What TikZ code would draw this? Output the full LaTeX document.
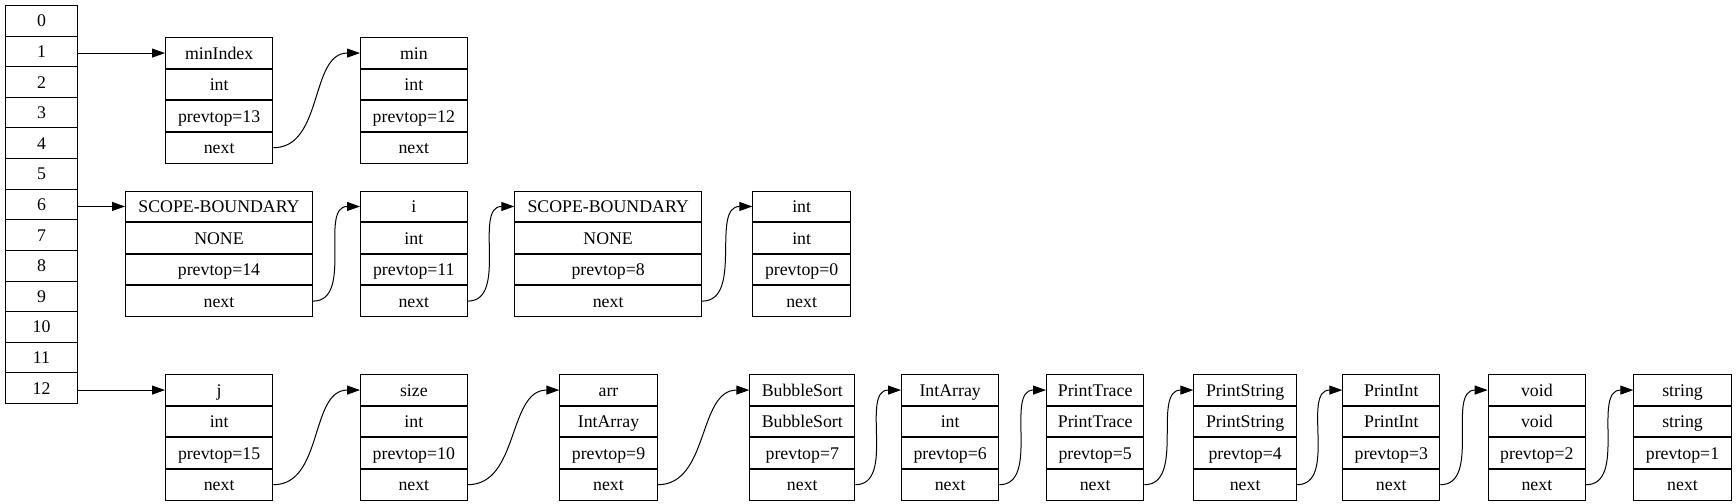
\documentclass[tikz,border=0pt]{standalone}
\usepackage{fontspec}
\setmainfont{Liberation Serif}
\newfontfamily\timesfont{Liberation Serif}
\usetikzlibrary{arrows.meta}
\tikzset{
  cell/.style={draw=black, line width=1pt, inner sep=0pt, minimum height=30.55pt,
    text height=12pt, text depth=0pt, font=\timesfont\fontsize{17.8}{20}\selectfont},
  link/.style={line width=1pt, -{Triangle[length=13pt,width=9pt]}}
}
\newcommand{\recbox}[8]{%
  \pgfmathsetmacro\bw{#3-#2}%
  \node[cell, minimum width=\bw pt, anchor=north west] (#1-1) at (#2pt,-#4pt) {#5};
  \node[cell, minimum width=\bw pt, anchor=north] (#1-2) at (#1-1.south) {#6};
  \node[cell, minimum width=\bw pt, anchor=north] (#1-3) at (#1-2.south) {#7};
  \node[cell, minimum width=\bw pt, anchor=north] (#1-4) at (#1-3.south) {#8};
}
\newcommand{\linkto}[2]{\draw[link] (#1-4.east) to[out=0,in=180] (#2-1.west);}
\begin{document}
\begin{tikzpicture}
\useasboundingbox (0,0) rectangle (1736pt,-503pt);
% table
\foreach \k in {0,...,12}{
  \node[cell, minimum width=72pt, minimum height=30.615pt, anchor=north west] (t\k) at (5pt,{-5pt-\k*30.615pt}) {\k};
}
% row 1
\recbox{mi}{165}{272.3}{37.3}{minIndex}{int}{prevtop=13}{next}
\recbox{mn}{360}{466.7}{37.3}{min}{int}{prevtop=12}{next}
% row 2
\recbox{sba}{125}{312}{190.7}{SCOPE-BOUNDARY}{NONE}{prevtop=14}{next}
\recbox{iv}{360}{466.7}{190.7}{i}{int}{prevtop=11}{next}
\recbox{sbb}{514.3}{701}{190.7}{SCOPE-BOUNDARY}{NONE}{prevtop=8}{next}
\recbox{it}{752.3}{850}{190.7}{int}{int}{prevtop=0}{next}
% row 3
\recbox{j}{165}{272.3}{374.3}{j}{int}{prevtop=15}{next}
\recbox{sz}{360}{466.7}{374.3}{size}{int}{prevtop=10}{next}
\recbox{ar}{559.3}{656.7}{374.3}{arr}{IntArray}{prevtop=9}{next}
\recbox{bs}{749.3}{854.3}{374.3}{BubbleSort}{BubbleSort}{prevtop=7}{next}
\recbox{ia}{901}{998.3}{374.3}{IntArray}{int}{prevtop=6}{next}
\recbox{pt}{1046}{1143.3}{374.3}{PrintTrace}{PrintTrace}{prevtop=5}{next}
\recbox{ps}{1193.3}{1296}{374.3}{PrintString}{PrintString}{prevtop=4}{next}
\recbox{pi}{1342.3}{1439.3}{374.3}{PrintInt}{PrintInt}{prevtop=3}{next}
\recbox{vd}{1487.7}{1585}{374.3}{void}{void}{prevtop=2}{next}
\recbox{st}{1633.3}{1730.7}{374.3}{string}{string}{prevtop=1}{next}
% table arrows
\draw[link] (t1.east |- mi-1.west) -- (mi-1.west);
\draw[link] (t6.east |- sba-1.west) -- (sba-1.west);
\draw[link] (t12.east |- j-1.west) -- (j-1.west);
% chains
\linkto{mi}{mn}
\linkto{sba}{iv}
\linkto{iv}{sbb}
\linkto{sbb}{it}
\linkto{j}{sz}
\linkto{sz}{ar}
\linkto{ar}{bs}
\linkto{bs}{ia}
\linkto{ia}{pt}
\linkto{pt}{ps}
\linkto{ps}{pi}
\linkto{pi}{vd}
\linkto{vd}{st}
\end{tikzpicture}
\end{document}
